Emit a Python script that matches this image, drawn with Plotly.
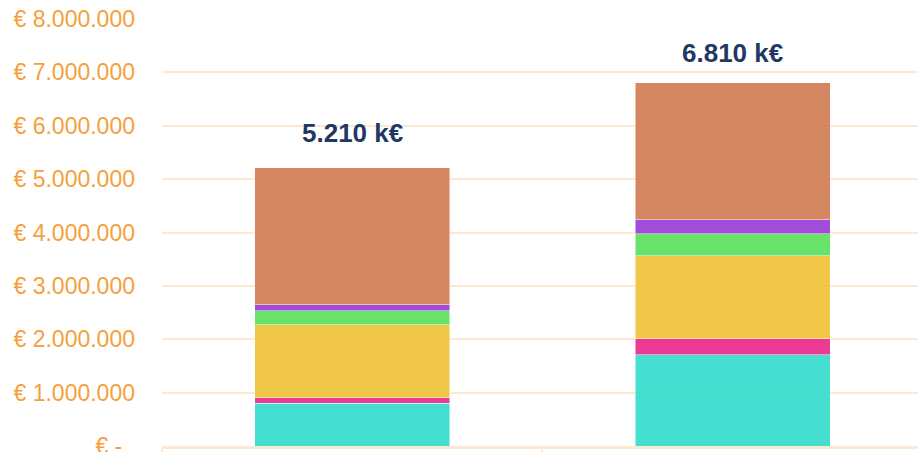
import plotly.graph_objects as go

# Two stacked columns, values in euros
categories = ["A", "B"]
series_names = ["Serie 1", "Serie 2", "Serie 3", "Serie 4", "Serie 5", "Serie 6"]
series_values = [
    [800_000, 1_710_000],    # teal
    [105_000, 300_000],      # pink
    [1_370_000, 1_550_000],  # yellow
    [255_000, 420_000],      # green
    [120_000, 260_000],      # purple
    [2_560_000, 2_570_000],  # orange
]
series_colors = ["#30DCCD", "#EC268A", "#F0C137", "#59DF59", "#9739D7", "#D07B4F"]
total_labels = ["5.210 k€", "6.810 k€"]
label_offsets = [35, 30]  # px above each column top

tick_vals = [0, 1e6, 2e6, 3e6, 4e6, 5e6, 6e6, 7e6, 8e6]
tick_text = ["€ -\u00a0\u00a0", "€ 1.000.000", "€ 2.000.000", "€ 3.000.000", "€ 4.000.000",
             "€ 5.000.000", "€ 6.000.000", "€ 7.000.000", "€ 8.000.000"]

GRID = "#FDE9D3"
AXIS_TEXT = "#F5A03C"
LABEL = "#1F3864"

fig = go.Figure()
for name, vals, color in zip(series_names, series_values, series_colors):
    fig.add_trace(go.Bar(
        x=categories, y=vals, name=name,
        marker=dict(color=color, opacity=0.9,
                    line=dict(color="rgba(255,255,255,0.6)", width=0.8)),
        showlegend=False,
    ))

totals = [sum(v[i] for v in series_values) for i in range(len(categories))]
for cat, tot, lab, off in zip(categories, totals, total_labels, label_offsets):
    fig.add_annotation(
        x=cat, y=tot, text=f"<b>{lab}</b>", showarrow=False,
        yanchor="middle", yshift=off,
        font=dict(family="Liberation Sans, Arial, sans-serif", size=26, color=LABEL),
    )

fig.update_layout(
    barmode="stack",
    bargap=0.4875,
    width=918, height=452,
    margin=dict(l=162, r=0, t=19, b=6, autoexpand=False),
    paper_bgcolor="white", plot_bgcolor="white",
    font=dict(family="Liberation Sans, Arial, sans-serif"),
    xaxis=dict(
        range=[-0.5, 1.487],
        showticklabels=False,
        showgrid=False,
        automargin=False,
        ticks="outside", tickson="boundaries", ticklen=8, tickwidth=2, tickcolor=GRID,
        showline=True, linecolor=GRID, linewidth=3,
        zeroline=False,
    ),
    yaxis=dict(
        range=[0, 8e6],
        tickvals=tick_vals, ticktext=tick_text,
        tickfont=dict(size=23, color=AXIS_TEXT),
        ticklabelstandoff=26,
        ticklabeloverflow="allow",
        automargin=False,
        showgrid=True, gridcolor=GRID, gridwidth=2,
        zeroline=False, showline=False,
    ),
)

fig.write_html("out.html")
